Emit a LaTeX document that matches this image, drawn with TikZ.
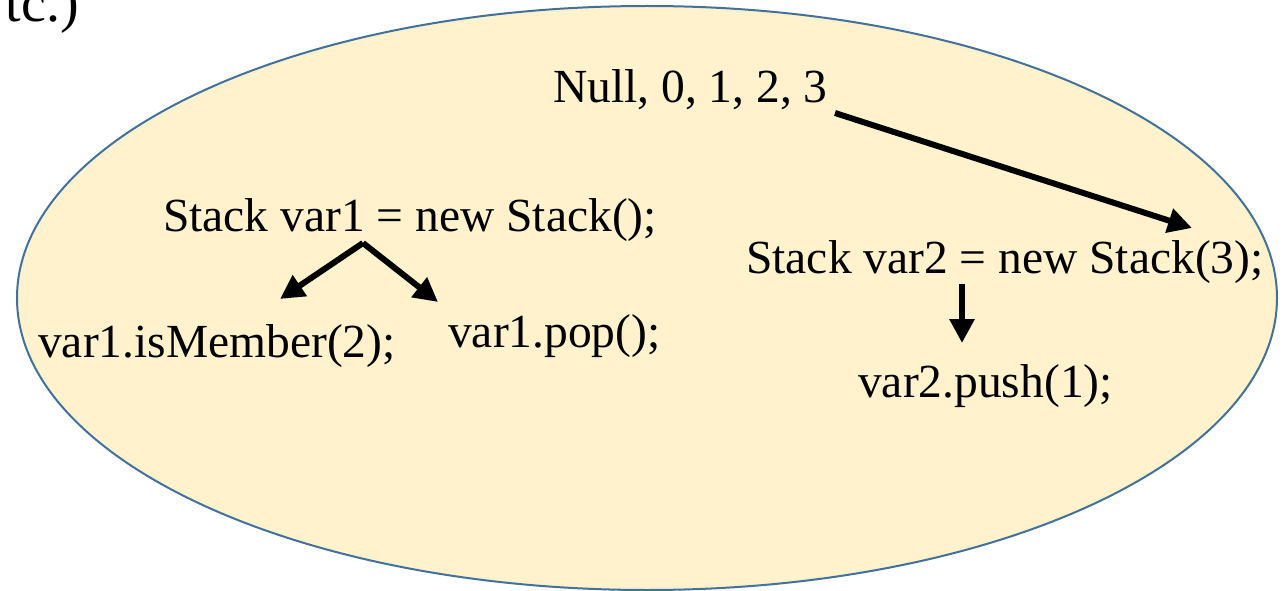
\documentclass[tikz,border=0pt]{standalone}
\usepackage{fontspec}
\setmainfont{Liberation Serif}
\usetikzlibrary{arrows.meta}
\definecolor{ellfill}{HTML}{FFF2CC}
\definecolor{elldraw}{HTML}{41719C}
\tikzset{
  lbl/.style={inner sep=0pt, anchor=base west, font=\fontsize{47.5}{50}\selectfont},
  fatarrow/.style={line width=6pt, -{Triangle[length=24pt,width=24pt]}}
}
\begin{document}
\begin{tikzpicture}[x=1pt,y=-1pt]
\useasboundingbox (0,0) rectangle (1286,591);
\fill[white] (0,0) rectangle (1286,591);
\draw[fill=ellfill, draw=elldraw, line width=2pt] (647,298) ellipse [x radius=630pt, y radius=292pt];
\node[inner sep=0pt, anchor=base east, font=\fontsize{56}{60}\selectfont] (etc) at (79,22) {tc.)};
\node[lbl] (nulls) at (553,103) {Null, 0, 1, 2, 3};
\node[lbl] (s1) at (163,232) {Stack var1 = new Stack();};
\node[lbl] (s2) at (746,273) {Stack var2 = new Stack(3);};
\node[lbl] (ism) at (38,357) {var1.isMember(2);};
\node[lbl] (pop) at (448,347) {var1.pop();};
\node[lbl] (push) at (858,397) {var2.push(1);};
\coordinate (a0) at (835,113);
\coordinate (a1) at (1192,228);
\coordinate (b0) at (363,243);
\coordinate (b1) at (280,299);
\coordinate (b2) at (438,302);
\coordinate (c0) at (962,284);
\coordinate (c1) at (962,343);
\draw[fatarrow] (a0) -- (a1);
\draw[fatarrow] (b0) -- (b1);
\draw[fatarrow] (b0) -- (b2);
\draw[fatarrow] (c0) -- (c1);
\end{tikzpicture}
\end{document}
